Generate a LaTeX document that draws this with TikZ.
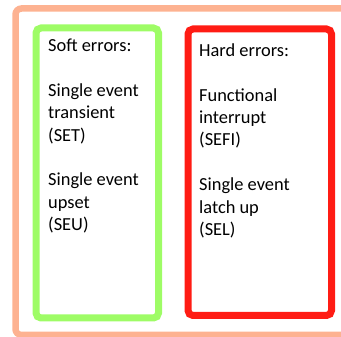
\documentclass[tikz,border=0pt]{standalone}
\usepackage{fontspec}
\setmainfont{Carlito}
\usetikzlibrary{positioning}
\definecolor{frameorange}{RGB}{253,178,145}
\definecolor{softgreen}{RGB}{158,252,102}
\definecolor{hardred}{RGB}{255,28,20}

\begin{document}
\begin{tikzpicture}[x=1pt,y=-1pt,font=\fontsize{18.4}{22.5}\selectfont,
    every node/.style={align=left,inner sep=0pt,anchor=base west},
    errbox/.style={line width=7pt,rounded corners=5pt}]
  \useasboundingbox (0,0) rectangle (341,337);
  % outer frame, runs off the right edge
  \draw[frameorange,line width=6.5pt,rounded corners=6pt] (15.5,8.5) rectangle (380,335);
  \draw[errbox,softgreen] (36,28) rectangle (158.5,318);
  \draw[errbox,hardred] (188,29) rectangle (331.5,315.5);
  % base anchor sits on the last line
  \node (soft) at (48,231) {Soft errors:\\[22.5pt]Single event\\transient\\(SET)\\[22.5pt]Single event\\upset\\(SEU)};
  \node (hard) at (199,236) {Hard errors:\\[22.5pt]Functional\\interrupt\\(SEFI)\\[22.5pt]Single event\\latch up\\(SEL)};
\end{tikzpicture}
\end{document}
